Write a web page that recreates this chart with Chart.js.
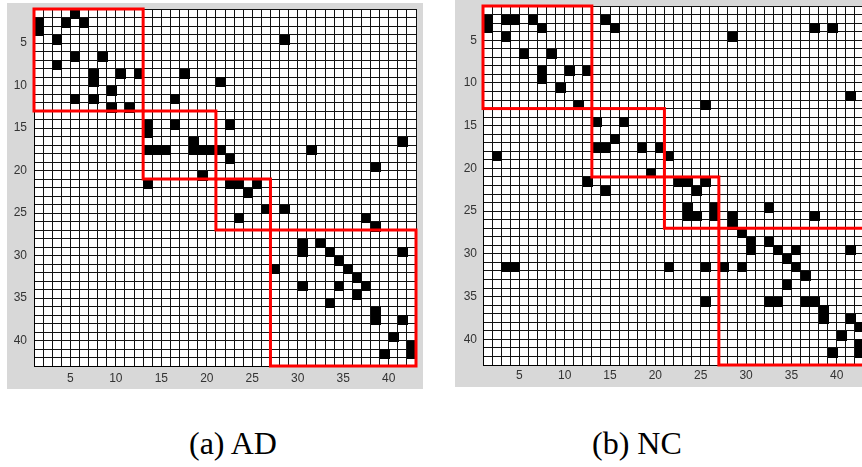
<!DOCTYPE html>
<html>
<head>
<meta charset="utf-8">
<script src="https://cdn.jsdelivr.net/npm/chart.js@4.4.1/dist/chart.umd.min.js"></script>
<style>
html,body{margin:0;padding:0;background:#fff;width:862px;height:467px;overflow:hidden;position:relative}
.panel{position:absolute;background:#d8d8d8}
.panel canvas{display:block}
.cap{position:absolute;font-family:"Liberation Serif","Times New Roman",serif;font-size:32px;line-height:32px;color:#000;white-space:nowrap}
</style>
</head>
<body>
<div class="panel" style="left:7px;top:3px;width:416px;height:386px"><canvas id="ca" width="416" height="386"></canvas></div>
<div class="panel" style="left:455px;top:0px;width:416px;height:387px"><canvas id="cb" width="416" height="387"></canvas></div>
<div class="cap" id="capA" style="left:189px;top:427px"></div>
<div class="cap" id="capB" style="left:592px;top:427px"></div>
<script>
// ---- data ----
const N = 43;                                  // nodes (grid lines 1..43)
const blockEdges = [1, 13, 21, 27, 43];        // red module boxes
const tickLabels = [5, 10, 15, 20, 25, 30, 35, 40];
const captions = ['(a) AD', '(b) NC'];
// [row, col] of black cells
const adCells = [
  [1,5],[2,1],[2,4],[2,6],[3,1],[4,3],[6,5],[6,8],[7,3],[8,7],[9,7],[8,10],[8,12],
  [10,9],[11,5],[11,7],[12,9],[12,11],
  [4,28],[8,17],[9,21],[11,16],
  [14,13],[15,13],[14,16],[16,18],[17,13],[17,14],[17,15],[17,18],[17,19],[17,20],[17,21],[20,19],
  [14,22],[18,22],[17,31],[16,41],[19,38],[21,13],
  [21,22],[21,23],[21,25],[22,24],[24,26],[25,23],
  [24,28],[25,37],[26,38],
  [28,30],[29,30],[28,32],[29,33],[29,41],[30,34],[31,27],[31,35],[32,36],[33,37],[33,30],
  [33,34],[34,36],[35,33],[36,38],[37,38],[37,41],[39,40],[41,39],[40,42],[41,42]
];
const ncCells = [
  [2,1],[3,1],[2,3],[2,4],[2,6],[3,7],[4,3],[6,5],[6,8],[8,7],[9,7],[8,10],[8,12],[10,9],[12,11],
  [2,14],[3,15],[3,37],[3,39],[4,28],[11,41],[12,25],
  [14,13],[14,16],[16,15],[17,13],[17,14],[17,18],[17,20],[18,21],[20,19],
  [18,2],[21,12],[22,14],
  [21,22],[21,23],[21,25],[22,24],[24,23],[25,23],[25,24],[24,26],[25,26],
  [25,28],[26,28],[24,32],[25,37],
  [27,29],[28,30],[29,30],[28,32],[29,33],[29,35],[29,41],[30,34],[31,35],[32,36],[33,34],
  [31,21],[31,25],[31,27],[31,29],[35,25],[35,32],[35,33],[35,36],[35,37],[36,38],[37,38],
  [37,41],[38,42],[39,40],[40,42],[41,42],[41,39],[31,3],[31,4]
];

document.getElementById('capA').textContent = captions[0];
document.getElementById('capB').textContent = captions[1];

const gridVals = Array.from({length: N}, (_, k) => k + 1);

const matrixPlugin = {
  id: 'matrix',
  beforeDraw(chart) {
    const {ctx, chartArea: a} = chart;
    ctx.save();
    ctx.fillStyle = '#ffffff';
    ctx.fillRect(a.left, a.top, a.right - a.left, a.bottom - a.top);
    ctx.restore();
  },
  afterDatasetsDraw(chart) {
    const {ctx} = chart;
    const xs = chart.scales.x, ys = chart.scales.y;
    ctx.save();
    ctx.fillStyle = '#000';
    chart.data.datasets[0].data.forEach(p => {
      const x0 = xs.getPixelForValue(p.x), x1 = xs.getPixelForValue(p.x + 1);
      const y0 = ys.getPixelForValue(p.y), y1 = ys.getPixelForValue(p.y + 1);
      ctx.fillRect(Math.round(Math.min(x0, x1)), Math.round(Math.min(y0, y1)),
                   Math.round(Math.abs(x1 - x0)) + 1, Math.round(Math.abs(y1 - y0)) + 1);
    });
    ctx.strokeStyle = '#ff0000';
    ctx.lineWidth = 3;
    for (let k = 0; k < blockEdges.length - 1; k++) {
      const a = blockEdges[k], b = blockEdges[k + 1];
      const xa = xs.getPixelForValue(a), xb = xs.getPixelForValue(b);
      const ya = ys.getPixelForValue(a), yb = ys.getPixelForValue(b);
      ctx.strokeRect(xa, ya, xb - xa, yb - ya);
    }
    ctx.restore();
  }
};

function makeChart(id, cells, axisW, axisH, padTop, padRight, xPad, yPad) {
  const tickFont = {family: '"Liberation Sans", Arial, sans-serif', size: 12};
  const labelCb = v => (tickLabels.includes(v) ? String(v) : '');
  return new Chart(document.getElementById(id), {
    type: 'scatter',
    data: {datasets: [{data: cells.map(([r, c]) => ({x: c, y: r})), pointRadius: 0, showLine: false}]},
    options: {
      responsive: false,
      animation: false,
      events: [],
      layout: {padding: {top: padTop, right: padRight, left: 0, bottom: 0}},
      plugins: {legend: {display: false}, tooltip: {enabled: false}},
      scales: {
        x: {
          type: 'linear', min: 1, max: N,
          afterBuildTicks: s => { s.ticks = gridVals.map(v => ({value: v})); },
          afterFit: s => { s.height = axisH; s.paddingLeft = 0; s.paddingRight = 0; },
          grid: {color: '#111', lineWidth: 1, drawTicks: false},
          border: {color: '#000', width: 1},
          ticks: {autoSkip: false, maxRotation: 0, padding: xPad, color: '#333', font: tickFont, callback: labelCb}
        },
        y: {
          type: 'linear', min: 1, max: N, reverse: true,
          afterBuildTicks: s => { s.ticks = gridVals.map(v => ({value: v})); },
          afterFit: s => { s.width = axisW; s.paddingTop = 0; s.paddingBottom = 0; },
          grid: {color: '#111', lineWidth: 1, drawTicks: false},
          border: {color: '#000', width: 1},
          ticks: {autoSkip: false, padding: yPad, color: '#333', font: tickFont, callback: labelCb}
        }
      }
    },
    plugins: [matrixPlugin]
  });
}

makeChart('ca', adCells, 27, 23, 6, 7, 5, 7);
makeChart('cb', ncCells, 28, 22, 6, 7, 3, 6);
</script>
</body>
</html>
